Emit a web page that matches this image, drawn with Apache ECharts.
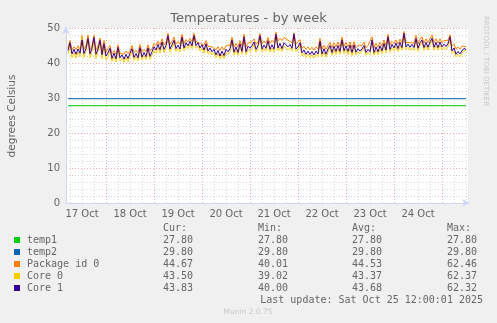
<!DOCTYPE html>
<html><head><meta charset="utf-8">
<script src="https://cdn.jsdelivr.net/npm/echarts@6/dist/echarts.min.js"></script>
<style>html,body{margin:0;padding:0;background:#f0f0f0}#c{width:497px;height:323px}</style>
</head><body><div id="c"></div>
<script>
// hourly samples, Oct 17 05:00 .. Oct 25 12:00
const core1 = [
 43.6,45.8,42.6,43.9,42.5,44.0,42.8,46.6,42.7,44.2,47.0,42.6,44.3,47.3,42.5,44.0,46.5,42.4,45.5,
 42.0,42.9,44.2,41.3,42.8,41.2,44.5,41.5,42.3,41.1,42.5,41.3,42.8,44.1,41.6,42.7,41.5,44.4,41.7,43.0,41.8,44.3,41.9,43.2,
 44.6,43.7,45.3,43.8,46.0,43.9,45.0,47.8,44.0,45.2,46.5,44.1,45.1,44.0,47.4,44.3,45.8,44.9,46.2,44.9,47.8,45.0,45.8,44.3,
 45.2,43.7,45.5,43.4,44.3,43.2,43.9,42.3,43.6,42.0,43.4,42.1,43.9,43.2,44.1,46.6,43.1,44.6,43.0,45.5,43.3,47.5,43.2,44.8,
 44.2,45.0,46.0,43.9,45.0,47.8,44.0,45.1,44.2,46.4,43.9,45.2,44.0,48.2,44.3,45.6,44.1,45.8,46.0,44.6,45.3,44.2,48.3,44.0,
 44.6,45.8,42.9,43.7,42.5,43.4,42.4,43.3,42.3,43.4,42.6,46.2,42.6,44.1,42.5,44.0,45.0,43.0,44.8,43.3,45.0,43.3,46.6,43.5,
 44.9,43.3,45.1,43.0,45.2,43.1,44.1,43.4,44.0,45.0,43.0,43.9,43.2,46.6,43.0,44.6,43.2,44.9,43.5,45.6,43.7,47.5,43.9,45.3,
 44.3,45.7,44.1,45.9,44.4,48.5,44.6,45.4,44.5,45.3,44.4,47.0,44.2,45.8,46.6,44.4,45.9,44.5,46.0,47.1,44.5,45.9,44.4,46.0,
 44.6,45.4,44.7,45.5,47.5,43.5,44.3,42.5,43.3,42.6,43.5,44.2,43.8
];
const package0 = [
 44.4,46.4,43.8,44.6,43.9,44.9,43.8,47.8,44.0,45.0,48.0,43.9,45.0,47.9,43.7,44.9,47.1,43.6,46.4,
 43.2,43.7,45.0,42.6,43.5,42.5,45.2,42.8,43.3,42.5,43.4,42.7,43.6,45.0,43.0,43.6,42.9,45.3,43.1,43.9,43.2,45.2,43.4,44.0,
 45.6,45.0,46.2,45.1,46.9,45.2,46.0,48.5,45.3,46.2,47.4,45.4,46.1,45.4,48.2,45.6,46.7,46.0,47.0,46.1,48.5,46.2,46.6,45.6,
 46.0,45.0,46.4,44.8,45.3,44.6,45.0,43.8,44.7,43.6,44.6,43.7,45.0,44.5,45.1,47.4,44.6,45.6,44.5,46.4,44.8,48.2,44.6,45.7,
 45.4,46.1,46.9,45.3,46.1,48.4,45.5,46.3,45.6,47.3,45.6,46.5,45.9,48.8,46.3,47.1,46.4,47.3,47.4,46.5,46.8,45.8,48.6,45.4,
 45.6,46.7,44.2,44.8,43.9,44.6,43.8,44.5,43.7,44.6,44.0,47.1,44.0,45.1,43.9,45.0,45.9,44.3,45.8,44.6,46.0,44.6,47.4,44.8,
 45.9,44.6,46.0,44.3,46.1,44.4,45.1,44.6,45.0,46.0,44.3,45.0,44.5,47.5,44.4,45.6,44.5,45.9,44.8,46.6,45.0,48.2,45.2,46.2,
 45.6,46.6,45.4,46.8,45.7,49.0,45.9,46.4,45.8,46.3,45.7,47.9,45.5,46.8,47.5,45.7,46.9,45.8,47.0,48.0,45.8,46.9,45.7,46.9,
 45.8,46.4,45.9,46.5,48.1,44.8,45.4,44.0,44.6,44.0,44.8,45.3,44.7
];
const core0 = [
 42.6,45.1,41.5,43.0,41.4,43.2,41.8,47.1,41.6,43.3,46.4,41.5,43.4,46.0,41.3,43.1,45.9,41.2,44.5,
 40.9,41.9,43.5,40.4,41.8,40.3,43.6,40.6,41.4,40.2,41.6,40.4,41.9,43.3,40.8,41.8,40.7,43.5,40.9,42.1,41.0,43.4,41.1,42.3,
 43.6,42.8,44.4,42.9,45.4,43.0,44.2,47.3,43.2,44.3,45.8,43.3,44.2,43.2,46.8,43.5,44.9,44.1,45.3,44.1,47.3,44.2,44.9,43.5,
 44.3,42.8,44.7,42.6,43.4,42.3,43.0,41.5,42.7,41.2,42.5,41.3,43.0,42.4,43.2,46.0,42.3,43.7,42.2,44.8,42.5,47.0,42.4,43.9,
 43.3,44.1,45.3,43.1,44.1,47.2,43.2,44.2,43.4,45.8,43.1,44.3,43.2,47.6,43.5,44.6,43.3,44.8,45.3,43.8,44.4,43.4,47.8,43.2,
 43.8,45.2,42.0,42.8,41.6,42.5,41.5,42.4,41.4,42.5,41.8,45.6,41.8,43.2,41.7,43.1,44.4,42.2,43.9,42.5,44.1,42.5,46.0,42.7,
 44.0,42.4,44.2,42.1,44.4,42.3,43.2,42.6,43.1,44.3,42.2,43.0,42.4,46.0,42.2,43.7,42.4,44.0,42.7,45.0,42.9,47.0,43.1,44.4,
 43.5,44.8,43.3,45.0,43.6,48.0,43.8,44.5,43.7,44.4,43.6,46.4,43.4,44.9,46.0,43.6,45.0,43.7,45.1,46.5,43.7,45.0,43.6,45.1,
 43.8,44.5,43.9,44.6,47.0,42.7,43.4,41.7,42.5,41.8,42.7,43.6,43.5
];
const temp1 = [27.8, 27.8];
const temp2 = [29.8, 29.8];

const legendNames = ['temp1', 'temp2', 'Package id 0', 'Core 0', 'Core 1'];
const legendColors = ['#00cc00', '#0066b3', '#ff8000', '#ffcc00', '#330099'];
const curVals = ['27.80', '29.80', '44.67', '43.50', '43.83'];
const minVals = ['27.80', '29.80', '40.01', '39.02', '40.00'];
const avgVals = ['27.80', '29.80', '44.53', '43.37', '43.68'];
const maxVals = ['27.80', '29.80', '62.46', '62.37', '62.32'];
const yTicks = [0, 10, 20, 30, 40, 50];

// hourly categories Oct 17 04:00 .. Oct 25 13:00
const cats = [];
{
  const t0 = Date.UTC(2025, 9, 17, 4);
  const t1 = Date.UTC(2025, 9, 25, 13);
  for (let t = t0; t <= t1; t += 3600000) {
    const d = new Date(t);
    const hh = String(d.getUTCHours()).padStart(2, '0');
    cats.push(d.getUTCDate() + ' Oct ' + hh + ':00');
  }
}
const hourOf = v => parseInt(v.slice(-5, -3), 10);
const pairs = arr => arr.map((v, i) => [cats[i + 1], v]);

const FONT = 'DejaVu Sans';
const MONO = 'DejaVu Sans Mono';
const AXIS = '#cfd6f8';

const graphic = [
  {type: 'text', x: 248.5, y: 19, style: {text: 'Temperatures - by week', font: '13px "' + FONT + '"', fill: '#666', textAlign: 'center', textVerticalAlign: 'middle'}},
  {type: 'text', x: 12, y: 116, rotation: Math.PI / 2, style: {text: 'degrees Celsius', font: '10.5px "' + FONT + '"', fill: '#666', textAlign: 'center', textVerticalAlign: 'middle'}},
  {type: 'text', x: 486, y: 16, rotation: -Math.PI / 2, style: {text: 'RRDTOOL / TOBI OETIKER', font: '7px "' + FONT + '"', fill: '#c8c8c8', textAlign: 'left', textVerticalAlign: 'middle'}},
  {type: 'text', x: 248, y: 312, style: {text: 'Munin 2.0.75', font: '7.5px "' + FONT + '"', fill: '#c8c8c8', textAlign: 'center', textVerticalAlign: 'middle'}},
  {type: 'text', x: 483, y: 300, style: {text: 'Last update: Sat Oct 25 12:00:01 2025', font: '10px "' + MONO + '"', fill: '#666', textAlign: 'right', textVerticalAlign: 'middle'}}
];
const colX = [163, 258, 352, 447];
['Cur:', 'Min:', 'Avg:', 'Max:'].forEach((h, k) => {
  graphic.push({type: 'text', x: colX[k], y: 228, style: {text: h, font: '10px "' + MONO + '"', fill: '#666', textVerticalAlign: 'middle'}});
});
legendNames.forEach((n, i) => {
  const y = 240 + i * 12;
  graphic.push({type: 'rect', shape: {x: 14, y: y - 3, width: 6, height: 6}, style: {fill: legendColors[i]}});
  graphic.push({type: 'text', x: 27, y: y, style: {text: n, font: '10px "' + MONO + '"', fill: '#666', textVerticalAlign: 'middle'}});
  [curVals, minVals, avgVals, maxVals].forEach((arr, k) => {
    graphic.push({type: 'text', x: colX[k], y: y, style: {text: arr[i], font: '10px "' + MONO + '"', fill: '#666', textVerticalAlign: 'middle'}});
  });
});

const grayDot = {color: '#d6d6d6', width: 1, type: [1, 2]};
const redDot = {color: '#eeaaaa', width: 1, type: [1, 2]};

const chart = echarts.init(document.getElementById('c'), null, {renderer: 'canvas'});
chart.setOption({
  animation: false,
  backgroundColor: '#f0f0f0',
  grid: {left: 66, right: 29, top: 28, bottom: 120, show: true, backgroundColor: '#ffffff', borderWidth: 0},
  xAxis: [
    {
      type: 'category', data: cats, boundaryGap: false,
      axisLine: {show: true, lineStyle: {color: AXIS, width: 1}, symbol: ['none', 'arrow'], symbolSize: [6, 8], symbolOffset: [0, 2]},
      axisTick: {show: false},
      axisLabel: {
        interval: (i, v) => hourOf(v) === 12 && i < cats.length - 8,
        formatter: v => v.slice(0, -6),
        color: '#666', fontFamily: FONT, fontSize: 10, margin: 6
      },
      splitLine: {show: true, interval: (i, v) => hourOf(v) % 6 === 0 && hourOf(v) !== 0, lineStyle: grayDot}
    },
    {
      type: 'category', data: cats, boundaryGap: false, position: 'bottom',
      axisLine: {show: false}, axisTick: {show: false}, axisLabel: {show: false},
      splitLine: {show: true, interval: (i, v) => hourOf(v) === 0, lineStyle: redDot}
    }
  ],
  yAxis: {
    type: 'value', min: yTicks[0], max: yTicks[yTicks.length - 1], interval: 10,
    axisLine: {show: true, lineStyle: {color: AXIS, width: 1}, symbol: ['none', 'arrow'], symbolSize: [6, 8], symbolOffset: [0, 2]},
    axisTick: {show: false},
    axisLabel: {color: '#666', fontFamily: FONT, fontSize: 10, margin: 6},
    splitLine: {show: true, lineStyle: redDot},
    minorTick: {show: false, splitNumber: 5},
    minorSplitLine: {show: true, lineStyle: grayDot}
  },
  graphic: graphic,
  series: [
    {name: 'temp1', type: 'line', data: [[cats[1], temp1[0]], [cats[cats.length - 2], temp1[1]]], showSymbol: false, lineStyle: {width: 1, color: legendColors[0]}, itemStyle: {color: legendColors[0]}},
    {name: 'temp2', type: 'line', data: [[cats[1], temp2[0]], [cats[cats.length - 2], temp2[1]]], showSymbol: false, lineStyle: {width: 1, color: legendColors[1]}, itemStyle: {color: legendColors[1]}},
    {name: 'Package id 0', type: 'line', data: pairs(package0), showSymbol: false, lineStyle: {width: 1, color: legendColors[2]}, itemStyle: {color: legendColors[2]}},
    {name: 'Core 0', type: 'line', data: pairs(core0), showSymbol: false, lineStyle: {width: 1, color: legendColors[3]}, itemStyle: {color: legendColors[3]}},
    {name: 'Core 1', type: 'line', data: pairs(core1), showSymbol: false, lineStyle: {width: 1, color: legendColors[4]}, itemStyle: {color: legendColors[4]}}
  ]
});
</script>
</body></html>
